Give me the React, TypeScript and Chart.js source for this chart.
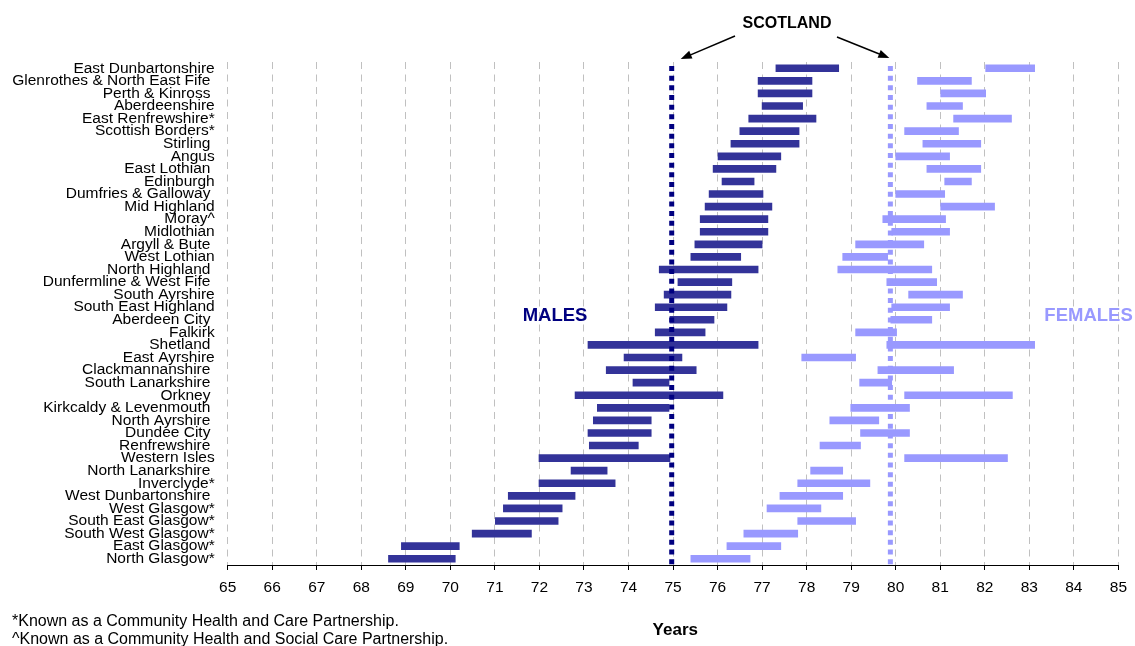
import React, { useEffect, useRef } from "react";
import { Chart, registerables } from "chart.js";

Chart.register(...registerables);

const AREAS = [
  "East Dunbartonshire",
  "Glenrothes & North East Fife ",
  "Perth & Kinross ",
  "Aberdeenshire",
  "East Renfrewshire*",
  "Scottish Borders*",
  "Stirling ",
  "Angus",
  "East Lothian ",
  "Edinburgh",
  "Dumfries & Galloway ",
  "Mid Highland",
  "Moray^",
  "Midlothian",
  "Argyll & Bute ",
  "West Lothian",
  "North Highland ",
  "Dunfermline & West Fife ",
  "South Ayrshire",
  "South East Highland",
  "Aberdeen City ",
  "Falkirk",
  "Shetland ",
  "East Ayrshire",
  "Clackmannanshire ",
  "South Lanarkshire ",
  "Orkney ",
  "Kirkcaldy & Levenmouth ",
  "North Ayrshire ",
  "Dundee City ",
  "Renfrewshire ",
  "Western Isles",
  "North Lanarkshire ",
  "Inverclyde*",
  "West Dunbartonshire ",
  "West Glasgow*",
  "South East Glasgow*",
  "South West Glasgow*",
  "East Glasgow*",
  "North Glasgow*",
];

const MALE_LOW = [
  77.31, 76.91, 76.91, 77.0, 76.7, 76.5, 76.3, 76.01, 75.9, 76.1,
  75.81, 75.72, 75.61, 75.61, 75.49, 75.4, 74.69, 75.11, 74.8, 74.6,
  74.93, 74.6, 73.09, 73.9, 73.5, 74.1, 72.8, 73.3, 73.21, 73.09,
  73.12, 71.99, 72.71, 71.99, 71.3, 71.19, 71.01, 70.49, 68.9, 68.61,
];
const MALE_HIGH = [
  78.72, 78.12, 78.12, 77.91, 78.21, 77.83, 77.83, 77.42, 77.31, 76.82,
  77.02, 77.22, 77.13, 77.13, 77.0, 76.52, 76.91, 76.32, 76.3, 76.21,
  75.92, 75.72, 76.91, 75.2, 75.52, 74.91, 76.12, 74.91, 74.51, 74.51,
  74.22, 74.93, 73.52, 73.7, 72.8, 72.51, 72.42, 71.82, 70.2, 70.11,
];
const FEMALE_LOW = [
  82.02, 80.49, 81.01, 80.7, 81.3, 80.2, 80.61, 80.0, 80.7, 81.1,
  80.0, 81.01, 79.71, 79.91, 79.1, 78.81, 78.7, 79.8, 80.29, 79.91,
  79.89, 79.1, 79.8, 77.89, 79.6, 79.19, 80.2, 78.99, 78.52, 79.21,
  78.3, 80.2, 78.09, 77.8, 77.4, 77.11, 77.8, 76.59, 76.21, 75.4,
];
const FEMALE_HIGH = [
  83.12, 81.7, 82.02, 81.5, 82.6, 81.41, 81.91, 81.21, 81.91, 81.7,
  81.1, 82.22, 81.12, 81.21, 80.63, 79.82, 80.81, 80.92, 81.5, 81.21,
  80.81, 80.02, 83.12, 79.1, 81.3, 79.91, 82.62, 80.31, 79.62, 80.31,
  79.21, 82.51, 78.81, 79.42, 78.81, 78.32, 79.1, 77.8, 77.42, 76.73,
];

const SCOTLAND_MALE = 74.97;
const SCOTLAND_FEMALE = 79.88;
const X_MIN = 65;
const X_MAX = 85;

const FONT = "'Liberation Sans', Arial, sans-serif";
const MALE_COLOR = "#333399";
const FEMALE_COLOR = "#9999FF";
const MALE_LINE = "#000080";

function drawArrow(ctx: CanvasRenderingContext2D, x1: number, y1: number, x2: number, y2: number) {
  const ang = Math.atan2(y2 - y1, x2 - x1);
  const head = 11;
  const hw = 4.2;
  const c = Math.cos(ang);
  const s = Math.sin(ang);
  ctx.save();
  ctx.strokeStyle = "#000";
  ctx.fillStyle = "#000";
  ctx.lineWidth = 1.5;
  ctx.beginPath();
  ctx.moveTo(x1, y1);
  ctx.lineTo(x2 - head * 0.8 * c, y2 - head * 0.8 * s);
  ctx.stroke();
  ctx.beginPath();
  ctx.moveTo(x2, y2);
  ctx.lineTo(x2 - head * c + hw * s, y2 - head * s - hw * c);
  ctx.lineTo(x2 - head * c - hw * s, y2 - head * s + hw * c);
  ctx.closePath();
  ctx.fill();
  ctx.restore();
}

const overlayPlugin = {
  id: "overlay",
  afterDatasetsDraw(chart: any) {
    const { ctx, chartArea } = chart;
    const xs = chart.scales.x;
    const dotted = (v: number, color: string) => {
      const px = xs.getPixelForValue(v);
      ctx.save();
      ctx.strokeStyle = color;
      ctx.lineWidth = 5;
      ctx.setLineDash([5, 4.67]);
      ctx.beginPath();
      ctx.moveTo(px, chartArea.top + 4);
      ctx.lineTo(px, chartArea.bottom);
      ctx.stroke();
      ctx.restore();
    };
    dotted(SCOTLAND_MALE, MALE_LINE);
    dotted(SCOTLAND_FEMALE, FEMALE_COLOR);
  },
  afterDraw(chart: any) {
    const { ctx, chartArea } = chart;
    const xs = chart.scales.x;
    const mx = xs.getPixelForValue(SCOTLAND_MALE);
    const fx = xs.getPixelForValue(SCOTLAND_FEMALE);
    const midY = (chartArea.top + chartArea.bottom) / 2;
    ctx.save();
    ctx.textAlign = "center";
    ctx.textBaseline = "middle";
    ctx.fillStyle = "#000";
    ctx.font = `bold 16px ${FONT}`;
    ctx.fillText("SCOTLAND", (mx + fx) / 2 + 6, 24);
    ctx.font = `bold 18.5px ${FONT}`;
    ctx.fillStyle = MALE_LINE;
    ctx.fillText("MALES", xs.getPixelForValue(72.35), midY + 2);
    ctx.fillStyle = FEMALE_COLOR;
    ctx.fillText("FEMALES", xs.getPixelForValue(84.33), midY + 2);
    ctx.fillStyle = "#000";
    ctx.font = `bold 17px ${FONT}`;
    ctx.fillText("Years", xs.getPixelForValue(75.05), 630);
    ctx.textAlign = "left";
    ctx.font = `16px ${FONT}`;
    ctx.fillText("*Known as a Community Health and Care Partnership.", 12, 622);
    ctx.fillText("^Known as a Community Health and Social Care Partnership.", 12, 640);
    ctx.restore();
    drawArrow(ctx, 735, 36, mx + 9, chartArea.top - 3);
    drawArrow(ctx, 837, 37, fx - 1, chartArea.top - 4);
  },
};

export default function App() {
  const canvasRef = useRef<HTMLCanvasElement | null>(null);

  useEffect(() => {
    if (!canvasRef.current) return;
    const chart = new Chart(canvasRef.current, {
      type: "bar",
      data: {
        labels: AREAS,
        datasets: [
          {
            label: "Males",
            data: MALE_LOW.map((v, i) => [v, MALE_HIGH[i]]) as any,
            backgroundColor: MALE_COLOR,
            borderWidth: 0,
            barThickness: 7,
            grouped: false,
          } as any,
          {
            label: "Females",
            data: FEMALE_LOW.map((v, i) => [v, FEMALE_HIGH[i]]) as any,
            backgroundColor: FEMALE_COLOR,
            borderWidth: 0,
            barThickness: 7,
            grouped: false,
          } as any,
        ],
      },
      options: {
        indexAxis: "y",
        animation: false,
        responsive: true,
        maintainAspectRatio: false,
        layout: { padding: { top: 62, right: 16, left: 0, bottom: 0 } },
        plugins: {
          legend: { display: false },
          tooltip: { enabled: false },
        },
        scales: {
          x: {
            type: "linear",
            min: X_MIN,
            max: X_MAX,
            ticks: {
              stepSize: 1,
              color: "#000",
              font: { family: FONT, size: 15.5 },
              padding: 8,
            },
            grid: {
              color: "#C0C0C0",
              lineWidth: 1,
              tickColor: "#000",
              tickLength: 5,
            },
            border: { display: true, color: "#000", width: 1, dash: [7, 5.5] },
            afterFit: (scale: any) => {
              scale.height = 81;
            },
          },
          y: {
            type: "category",
            ticks: {
              autoSkip: false,
              color: "#000",
              font: { family: FONT, size: 15.5 },
              padding: 13,
            },
            grid: { display: false, drawTicks: false },
            border: { display: false },
            afterFit: (scale: any) => {
              scale.width = 227.7;
            },
          },
        },
      } as any,
      plugins: [overlayPlugin],
    });
    return () => chart.destroy();
  }, []);

  return (
    <div
      style={{
        position: "fixed",
        left: 0,
        top: 0,
        width: 1135,
        height: 646,
        background: "#fff",
      }}
    >
      <canvas ref={canvasRef} />
    </div>
  );
}
